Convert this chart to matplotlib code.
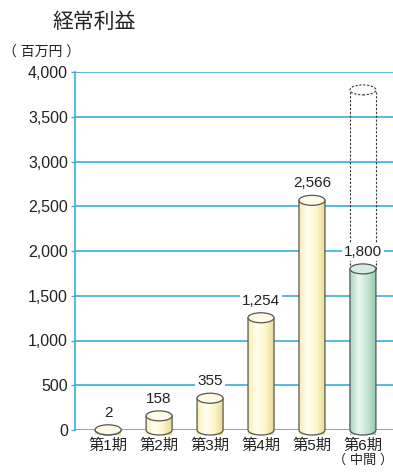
import numpy as np
import matplotlib
matplotlib.use('Agg')
import matplotlib.pyplot as plt
from matplotlib.path import Path
from matplotlib.patches import PathPatch, Ellipse
from matplotlib.colors import LinearSegmentedColormap
from matplotlib.transforms import blended_transform_factory

plt.rcParams['font.family'] = ['Liberation Sans', 'Noto Sans CJK JP']

periods = ['第1期', '第2期', '第3期', '第4期', '第5期', '第6期']
profits = [2, 158, 355, 1254, 2566, 1800]
labels = ['2', '158', '355', '1,254', '2,566', '1,800']
forecast = 3800  # full-year outline drawn over the interim bar
yticks = [0, 500, 1000, 1500, 2000, 2500, 3000, 3500, 4000]

grid_blue = '#3aaedc'
edge = '#555555'
yellow = LinearSegmentedColormap.from_list(
    'yel', ['#f8eeb0', '#fffff2', '#fdf6c8', '#e9dc9c'])
green = LinearSegmentedColormap.from_list(
    'grn', ['#a9d6bf', '#eef8f3', '#c6e6d6', '#98c8ae'])

fig = plt.figure(figsize=(3.93, 4.74), dpi=100)
ax = fig.add_axes([75 / 393, 44 / 474, 1 - 75 / 393, 358 / 474])
ax.set_xlim(-0.65, 5.59)
ax.set_ylim(0, 4000)

# pixel -> data scale for ellipse geometry
px_y = 4000 / 358
px_x = 1 / 51
w = 26 * px_x
eh = 10 * px_y


def cylinder(x, v, cmap, top_color, z):
    n = 40
    t = np.linspace(np.pi, 2 * np.pi, n)
    arc = np.column_stack([x + w / 2 * np.cos(t), eh / 2 * np.sin(t)])
    verts = [(x - w / 2, v)] + [tuple(p) for p in arc] + [(x + w / 2, v), (x - w / 2, v)]
    body = PathPatch(Path(verts, closed=True), facecolor='none', edgecolor=edge,
                     lw=0.9, zorder=z + 1, clip_on=False)
    ax.add_patch(body)
    grad = np.linspace(0, 1, 64).reshape(1, -1)
    im = ax.imshow(grad, cmap=cmap, aspect='auto', extent=[x - w / 2, x + w / 2, -eh / 2, v],
                   zorder=z, interpolation='bilinear', clip_on=False)
    im.set_clip_path(body)
    ax.add_patch(Ellipse((x, v), w, eh, facecolor=top_color, edgecolor=edge,
                         lw=0.9, zorder=z + 2, clip_on=False))


for i, v in enumerate(profits):
    if i == 5:
        cylinder(i, v, green, '#d6eee2', 3)
    else:
        cylinder(i, v, yellow, '#fffbe6', 3)
    ax.text(i, v + 17 * px_y, labels[i], ha='center', va='center', fontsize=11,
            color='#222222', zorder=6,
            bbox=dict(boxstyle='square,pad=0.15', fc='white', ec='none'))

# dashed outline for the full-year figure
x6 = 5
ax.plot([x6 - w / 2, x6 - w / 2], [profits[5], forecast], ls=(0, (2, 1.5)), color='#333333',
        lw=0.8, zorder=2)
ax.plot([x6 + w / 2, x6 + w / 2], [profits[5], forecast], ls=(0, (2, 1.5)), color='#333333',
        lw=0.8, zorder=2)
ax.add_patch(Ellipse((x6, forecast), w, eh, facecolor='white', edgecolor='#333333',
                     lw=0.8, ls=(0, (2, 1.5)), zorder=2))

for y in yticks:
    ax.axhline(y, color=grid_blue, lw=1.2, zorder=1)

for s in ['top', 'right', 'bottom']:
    ax.spines[s].set_visible(False)
ax.spines['left'].set_color(grid_blue)
ax.spines['left'].set_linewidth(1.2)
ax.spines['left'].set_zorder(1)

ax.set_yticks(yticks)
ax.set_yticklabels([f'{y:,}' for y in yticks], fontsize=11.5, color='#222222')
ax.tick_params(axis='y', length=3, width=1, color=grid_blue, pad=2)
ax.set_xticks([])

# period labels placed in pixel offsets below the baseline
trans = blended_transform_factory(ax.transData, fig.transFigure)
for i, p in enumerate(periods):
    ax.text(i, 1 - 446 / 474, p, transform=trans, ha='center', va='center',
            fontsize=11, color='#222222', clip_on=False)
ax.text(5, 1 - 460 / 474, '（ 中間 ）', transform=trans, ha='center', va='center',
        fontsize=9.5, color='#222222', clip_on=False)

fig.text(94 / 393, 1 - 22 / 474, '経常利益', ha='center', va='center', fontsize=15,
         color='#222222')
fig.text(42 / 393, 1 - 53 / 474, '（ 百万円 ）', ha='center', va='center', fontsize=10,
         color='#222222')

fig.savefig('out.png', dpi=100)
